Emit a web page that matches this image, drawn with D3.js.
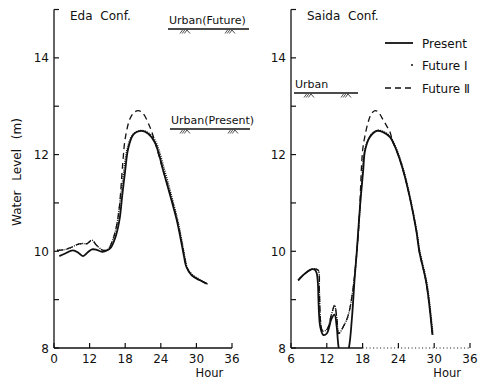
<!DOCTYPE html>
<html>
<head>
<meta charset="utf-8">
<script src="https://cdn.jsdelivr.net/npm/d3@7"></script>
<style>
  body { margin: 0; background: #fff; }
  text { font-family: "DejaVu Sans", sans-serif; fill: #111; }
</style>
</head>
<body>
<div id="chart"></div>
<script>
// hours on x, water level (m) on y
var hourTicks = [6, 12, 18, 24, 30, 36];
var edaHourLabels = ["0", "12", "18", "24", "30", "36"];
var saidaHourLabels = ["6", "12", "18", "24", "30", "36"];
var levelTicks = [8, 9, 10, 11, 12, 13, 14, 15];
var levelLabels = [8, 10, 12, 14];
var seriesNames = ["Present", "Future \u2160", "Future \u2161"];

var edaPresent = [[6.9,9.90],[7.8,9.95],[9.2,10.02],[10.2,9.96],[10.9,9.90],[11.7,9.98],[12.4,10.04],[13.2,10.03],
  [14.1,9.99],[15.0,10.02],[15.6,10.08],[16.3,10.27],[16.8,10.5],[17.1,10.7],[17.5,11.15],[18.0,11.67],[18.5,12.12],
  [19.4,12.42],[20.8,12.49],[21.9,12.43],[23.0,12.25],[23.7,12.0],[24.4,11.67],[25.5,11.19],[26.7,10.64],[27.5,10.16],
  [27.9,9.9],[28.3,9.68],[29.2,9.5],[30.6,9.40],[31.7,9.33]];
var edaFuture1 = [[6.5,10.02],[7.6,10.03],[8.7,10.07],[9.9,10.14],[10.8,10.16],[11.6,10.16],[12.4,10.23],[13.2,10.12],
  [14.3,10.02],[15.1,10.04],[15.8,10.2],[16.5,10.5],[16.9,10.8],[17.3,11.2],[17.8,11.7],[18.3,12.1],[19.2,12.4],
  [20.6,12.5],[21.9,12.45],[23.1,12.28],[24.6,11.7],[25.7,11.2],[26.9,10.62],[27.7,10.12],[28.1,9.85],[28.5,9.65],
  [29.3,9.52],[30.8,9.4],[31.9,9.32]];
var edaFuture2 = [[6.5,10.02],[7.6,10.03],[8.7,10.07],[9.9,10.14],[10.8,10.16],[11.6,10.16],[12.4,10.23],[13.2,10.12],
  [14.3,10.02],[15.1,10.04],[15.8,10.2],[16.5,10.5],[17.0,10.9],[17.6,11.84],[18.0,12.33],[18.8,12.74],[19.5,12.87],
  [20.2,12.91],[21.0,12.85],[22.2,12.56],[22.7,12.39],[23.4,12.1],[24.4,11.67],[25.6,11.18],[26.8,10.62],[27.6,10.14],
  [28.0,9.88],[28.4,9.67],[29.3,9.5],[30.7,9.4],[31.8,9.33]];

var saidaPresent = [[7.2,9.40],[8.35,9.54],[9.5,9.63],[10.0,9.62],[10.3,9.55],[10.5,9.35],[10.6,9.0],[10.7,8.7],
  [10.9,8.44],[11.4,8.27],[12.0,8.30],[12.8,8.61],[13.3,8.69],[13.65,8.45],[14.0,8.0],[14.8,7.6],[15.7,8.0],[16.2,8.6],
  [16.7,9.5],[17.0,9.95],[17.6,10.98],[18.1,11.67],[18.4,12.08],[19.2,12.36],[20.4,12.49],[21.5,12.46],[22.6,12.36],
  [23.7,12.08],[24.8,11.67],[25.9,11.12],[27.0,10.43],[27.5,10.0],[28.7,9.33],[29.7,8.27]];
var saidaFuture1 = [[7.2,9.40],[8.35,9.54],[9.5,9.63],[10.2,9.63],[10.6,9.6],[10.75,9.2],[10.85,8.8],[11.0,8.5],
  [11.3,8.35],[12.0,8.38],[12.8,8.7],[13.3,8.88],[13.7,8.6],[14.0,8.3],[14.8,8.45],[15.6,8.68],[16.4,9.23],[16.9,9.8],
  [17.4,10.6],[17.9,11.5],[18.3,12.05],[19.2,12.38],[20.4,12.5],[21.6,12.47],[22.7,12.36],[23.8,12.08],[24.9,11.67],
  [26.0,11.1],[27.1,10.4],[27.6,10.0],[28.8,9.33],[29.8,8.27]];
var saidaFuture2 = [[7.2,9.40],[8.35,9.54],[9.5,9.63],[10.2,9.63],[10.6,9.6],[10.75,9.2],[10.85,8.8],[11.0,8.5],
  [11.3,8.35],[12.0,8.38],[12.8,8.7],[13.3,8.88],[13.7,8.6],[14.0,8.3],[14.8,8.45],[15.6,8.68],[16.4,9.23],[16.9,9.8],
  [17.4,10.6],[18.0,12.08],[18.4,12.39],[19.0,12.70],[19.5,12.85],[20.1,12.91],[20.7,12.87],[21.2,12.77],[22.0,12.6],
  [22.6,12.46],[23.1,12.25],[23.7,12.08],[24.8,11.67],[25.9,11.12],[27.0,10.43],[27.5,10.0],[28.7,9.33],[29.7,8.27]];

var svg = d3.select("#chart").append("svg")
  .attr("width", 482)
  .attr("height", 379);

var yScale = d3.scaleLinear().domain([8, 15]).range([348, 9.5]);

var styles = [
  { width: 1.8, dash: null },
  { width: 1.4, dash: "1,1.2" },
  { width: 1.3, dash: "6,4" }
];

// draws a little "///\" ground hatch under an urban line
function hatch(g, x, y) {
  for (var i = 0; i < 3; i++) {
    g.append("line").attr("x1", x + i * 2.2).attr("y1", y + 4.5).attr("x2", x + i * 2.2 + 2.5).attr("y2", y + 1)
      .attr("stroke", "#222").attr("stroke-width", 0.8);
  }
  g.append("line").attr("x1", x + 7).attr("y1", y + 1).attr("x2", x + 10).attr("y2", y + 4.5)
    .attr("stroke", "#222").attr("stroke-width", 0.8);
}

function urban(label, x1, x2, y, hatchXs) {
  var g = svg.append("g");
  g.append("text").attr("x", x1 + 1).attr("y", y - 5).attr("font-size", 11).text(label);
  g.append("line").attr("x1", x1).attr("x2", x2).attr("y1", y).attr("y2", y)
    .attr("stroke", "#111").attr("stroke-width", 1.3);
  hatchXs.forEach(function(hx) { hatch(g, hx, y); });
}

function panel(id, x0, x1, title, hourLabels, series, dottedFrom) {
  var xScale = d3.scaleLinear().domain([6, 36]).range([x0, x1]);
  var g = svg.append("g");

  g.append("clipPath").attr("id", "clip-" + id)
    .append("rect").attr("x", x0).attr("y", 0).attr("width", x1 - x0 + 5).attr("height", 348);

  // y axis line and inward ticks
  g.append("line").attr("x1", x0).attr("x2", x0).attr("y1", yScale(8)).attr("y2", yScale(15))
    .attr("stroke", "#111").attr("stroke-width", 1.3);
  g.selectAll(".ytick").data(levelTicks).enter().append("line")
    .attr("x1", x0).attr("x2", x0 + 5)
    .attr("y1", function(d) { return yScale(d); })
    .attr("y2", function(d) { return yScale(d); })
    .attr("stroke", "#111").attr("stroke-width", 1.2);
  g.selectAll(".ylabel").data(levelLabels).enter().append("text")
    .attr("x", x0 - 5)
    .attr("y", function(d) { return yScale(d) + 4.5; })
    .attr("text-anchor", "end")
    .attr("font-size", 12)
    .text(function(d) { return d; });

  // x axis: solid, or dotted past a given hour
  var split = dottedFrom || 36;
  g.append("line").attr("x1", x0).attr("x2", xScale(split)).attr("y1", 348).attr("y2", 348)
    .attr("stroke", "#111").attr("stroke-width", 1.3);
  if (dottedFrom) {
    g.append("line").attr("x1", xScale(split)).attr("x2", x1).attr("y1", 348).attr("y2", 348)
      .attr("stroke", "#111").attr("stroke-width", 1.2).attr("stroke-dasharray", "1,2.5");
  }
  g.selectAll(".xtick").data(hourTicks).enter().append("line")
    .attr("x1", function(d) { return xScale(d); })
    .attr("x2", function(d) { return xScale(d); })
    .attr("y1", 348).attr("y2", 343)
    .attr("stroke", "#111").attr("stroke-width", 1.2);
  g.selectAll(".xlabel").data(hourTicks).enter().append("text")
    .attr("x", function(d) { return xScale(d); })
    .attr("y", 363)
    .attr("text-anchor", "middle")
    .attr("font-size", 12)
    .text(function(d, i) { return hourLabels[i]; });
  g.append("text").attr("x", xScale(30) + 13).attr("y", 377)
    .attr("text-anchor", "middle").attr("font-size", 11.5).text("Hour");

  g.append("text").attr("x", x0 + 16).attr("y", 20).attr("font-size", 12)
    .attr("word-spacing", 4).text(title);

  var line = d3.line()
    .x(function(d) { return xScale(d[0]); })
    .y(function(d) { return yScale(d[1]); })
    .curve(d3.curveCatmullRom.alpha(0.5));

  g.append("g").attr("clip-path", "url(#clip-" + id + ")")
    .selectAll("path").data(series).enter().append("path")
    .attr("d", function(d) { return line(d); })
    .attr("fill", "none")
    .attr("stroke", "#111")
    .attr("stroke-width", function(d, i) { return styles[i].width; })
    .attr("stroke-dasharray", function(d, i) { return styles[i].dash; });
}

panel("eda", 54, 232, "Eda Conf.", edaHourLabels, [edaPresent, edaFuture1, edaFuture2], null);
panel("saida", 291, 470, "Saida Conf.", saidaHourLabels, [saidaPresent, saidaFuture1, saidaFuture2], 18);

svg.append("text")
  .attr("transform", "translate(21,172) rotate(-90)")
  .attr("text-anchor", "middle")
  .attr("font-size", 12)
  .attr("word-spacing", 6)
  .text("Water Level (m)");

urban("Urban(Future)", 168, 249, 29, [180, 225]);
urban("Urban(Present)", 170, 250, 129, [180, 228]);
urban("Urban", 294, 358, 93, [304, 341]);

// legend
var legend = svg.append("g");
var legendY = [43, 65, 88];
legend.selectAll("line").data(seriesNames).enter().append("line")
  .attr("x1", function(d, i) { return i === 1 ? 411 : 385; })
  .attr("x2", 413)
  .attr("y1", function(d, i) { return legendY[i]; })
  .attr("y2", function(d, i) { return legendY[i]; })
  .attr("stroke", "#111")
  .attr("stroke-width", function(d, i) { return i === 1 ? 1.5 : styles[i].width; })
  .attr("stroke-dasharray", function(d, i) { return i === 2 ? "6,4" : null; });
legend.selectAll("text").data(seriesNames).enter().append("text")
  .attr("x", 422)
  .attr("y", function(d, i) { return legendY[i] + 4.5; })
  .attr("font-size", 12)
  .text(function(d) { return d; });
</script>
</body>
</html>
